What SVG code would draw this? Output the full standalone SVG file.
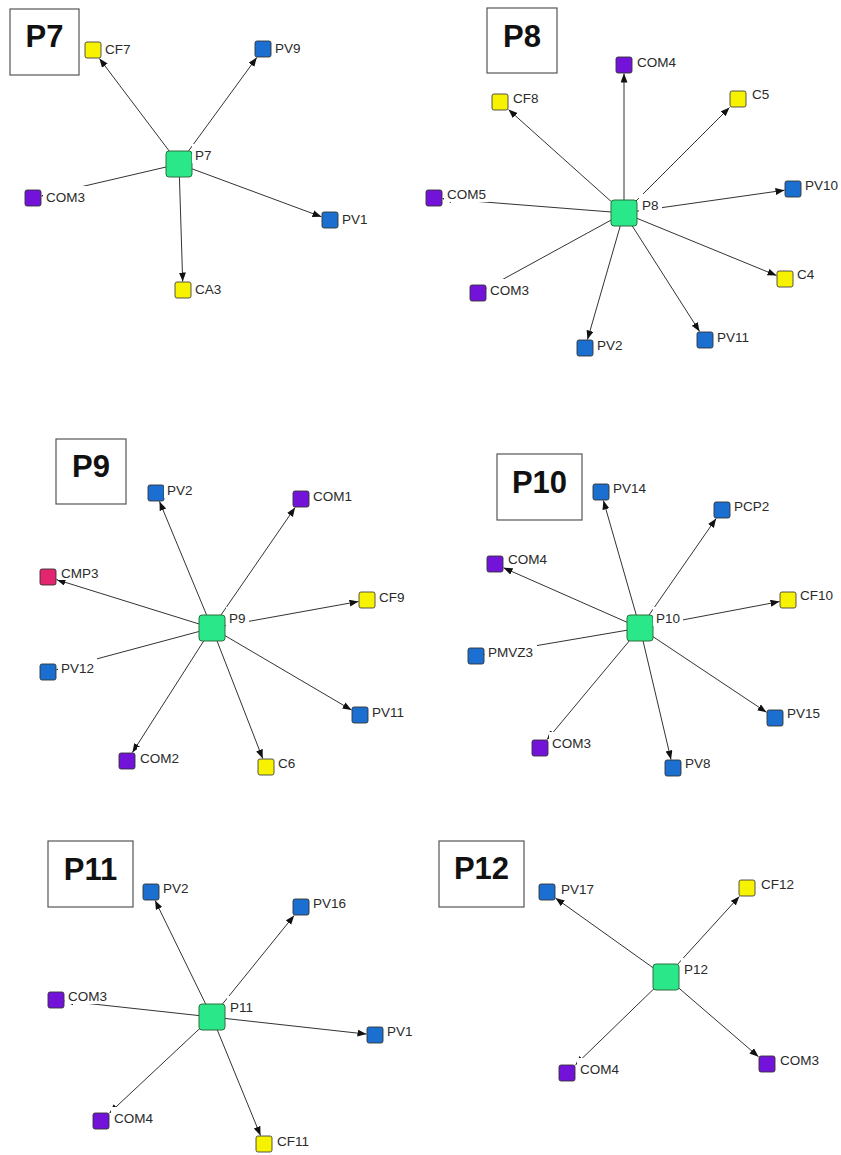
<svg xmlns="http://www.w3.org/2000/svg" width="841" height="1155" viewBox="0 0 841 1155">
  <style>
    .ttlbox { fill: #ffffff; stroke: #555555; stroke-width: 1.2; }
    .ttl { font-family: "Liberation Sans", Arial, sans-serif; font-weight: bold; font-size: 31px; fill: #111111; text-anchor: middle; }
    .e { stroke: #333333; stroke-width: 1; fill: none; marker-end: url(#arr); }
    .hub { fill: #2ae889; stroke: #2f6f3f; stroke-width: 1; }
    .y { fill: #f6f200; stroke: #444444; stroke-width: 0.9; }
    .b { fill: #1b6fd1; stroke: #333333; stroke-width: 0.9; }
    .p { fill: #7312d9; stroke: #333333; stroke-width: 0.9; }
    .m { fill: #e3246e; stroke: #333333; stroke-width: 0.9; }
    .lb { fill: #ffffff; }
    .lt { font-family: "Liberation Sans", Arial, sans-serif; font-size: 13.5px; fill: #2a2a2a; }
  </style>
  <defs>
    <marker id="arr" markerUnits="userSpaceOnUse" markerWidth="10" markerHeight="8" refX="9" refY="3.5" orient="auto">
      <path d="M0,0 L9,3.5 L0,7 z" fill="#111111"/>
    </marker>
  </defs>
  <rect width="841" height="1155" fill="#ffffff"/>

  <!-- panel titles -->
  <g id="titles">
    <rect class="ttlbox" x="10" y="9" width="69" height="66"/><text class="ttl" x="44.5" y="47">P7</text>
    <rect class="ttlbox" x="487" y="8" width="70" height="65"/><text class="ttl" x="522" y="47">P8</text>
    <rect class="ttlbox" x="56" y="439" width="70" height="65"/><text class="ttl" x="91" y="477">P9</text>
    <rect class="ttlbox" x="497" y="454" width="85" height="66"/><text class="ttl" x="539.5" y="493">P10</text>
    <rect class="ttlbox" x="48" y="841" width="85" height="66"/><text class="ttl" x="90.5" y="880">P11</text>
    <rect class="ttlbox" x="439" y="841" width="85" height="66"/><text class="ttl" x="481.5" y="879">P12</text>
  </g>

  <!-- connectors: hub to each linked node -->
  <g id="connectors">
    <!-- P7 -->
    <line class="e" x1="179" y1="164" x2="99.4" y2="58.5"/>
    <line class="e" x1="179" y1="164" x2="256.8" y2="57.5"/>
    <line class="e" x1="179" y1="164" x2="41.5" y2="196"/>
    <line class="e" x1="179" y1="164" x2="321.5" y2="216.8"/>
    <line class="e" x1="179" y1="164" x2="182.7" y2="281.5"/>
    <!-- P8 -->
    <line class="e" x1="624" y1="213" x2="624" y2="73.5"/>
    <line class="e" x1="624" y1="213" x2="508.5" y2="109.6"/>
    <line class="e" x1="624" y1="213" x2="729.5" y2="107.5"/>
    <line class="e" x1="624" y1="213" x2="784.5" y2="190.2"/>
    <line class="e" x1="624" y1="213" x2="776.5" y2="275.5"/>
    <line class="e" x1="624" y1="213" x2="699.6" y2="331.5"/>
    <line class="e" x1="624" y1="213" x2="587.5" y2="339.5"/>
    <line class="e" x1="624" y1="213" x2="486.5" y2="288.3"/>
    <line class="e" x1="624" y1="213" x2="442.5" y2="198.7"/>
    <!-- P9 -->
    <line class="e" x1="212" y1="628" x2="159.5" y2="501.5"/>
    <line class="e" x1="212" y1="628" x2="295.1" y2="507.5"/>
    <line class="e" x1="212" y1="628" x2="56.5" y2="579.6"/>
    <line class="e" x1="212" y1="628" x2="358.5" y2="601.5"/>
    <line class="e" x1="212" y1="628" x2="56.5" y2="669.7"/>
    <line class="e" x1="212" y1="628" x2="351.5" y2="710"/>
    <line class="e" x1="212" y1="628" x2="132.4" y2="752.5"/>
    <line class="e" x1="212" y1="628" x2="262.7" y2="758.5"/>
    <!-- P10 -->
    <line class="e" x1="640" y1="628" x2="603.4" y2="500.5"/>
    <line class="e" x1="640" y1="628" x2="716.1" y2="518.5"/>
    <line class="e" x1="640" y1="628" x2="503.5" y2="567.8"/>
    <line class="e" x1="640" y1="628" x2="779.5" y2="601.6"/>
    <line class="e" x1="640" y1="628" x2="484.5" y2="654.5"/>
    <line class="e" x1="640" y1="628" x2="766.5" y2="712.3"/>
    <line class="e" x1="640" y1="628" x2="547.1" y2="739.5"/>
    <line class="e" x1="640" y1="628" x2="671" y2="759.5"/>
    <!-- P11 -->
    <line class="e" x1="212" y1="1017" x2="155.1" y2="900.5"/>
    <line class="e" x1="212" y1="1017" x2="294.1" y2="915.5"/>
    <line class="e" x1="212" y1="1017" x2="64.5" y2="1000.9"/>
    <line class="e" x1="212" y1="1017" x2="366.5" y2="1034.1"/>
    <line class="e" x1="212" y1="1017" x2="109.5" y2="1113"/>
    <line class="e" x1="212" y1="1017" x2="260.5" y2="1135.5"/>
    <!-- P12 -->
    <line class="e" x1="666" y1="977" x2="555.5" y2="898.1"/>
    <line class="e" x1="666" y1="977" x2="739.3" y2="896.5"/>
    <line class="e" x1="666" y1="977" x2="575.5" y2="1064.8"/>
    <line class="e" x1="666" y1="977" x2="758.5" y2="1056.7"/>
  </g>

  <!-- P7 network -->
  <g id="p7-hub"><rect class="hub" x="166" y="151" width="26" height="26" rx="3"/><rect class="lb" x="192" y="144" width="23" height="19"/><text class="lt" x="195" y="160">P7</text></g>
  <g id="p7-cf7"><rect class="y" x="85" y="42" width="16" height="16" rx="2"/><rect class="lb" x="102" y="38" width="32" height="19"/><text class="lt" x="105" y="54">CF7</text></g>
  <g id="p7-pv9"><rect class="b" x="255" y="41" width="16" height="16" rx="2"/><rect class="lb" x="272" y="37" width="32" height="19"/><text class="lt" x="275" y="53">PV9</text></g>
  <g id="p7-com3"><rect class="p" x="25" y="190" width="16" height="16" rx="2"/><rect class="lb" x="43" y="186" width="46" height="19"/><text class="lt" x="46" y="202">COM3</text></g>
  <g id="p7-pv1"><rect class="b" x="322" y="212" width="16" height="16" rx="2"/><rect class="lb" x="339" y="208" width="32" height="19"/><text class="lt" x="342" y="224">PV1</text></g>
  <g id="p7-ca3"><rect class="y" x="175" y="282" width="16" height="16" rx="2"/><rect class="lb" x="192" y="278" width="33" height="19"/><text class="lt" x="195" y="294">CA3</text></g>

  <!-- P8 network -->
  <g id="p8-hub"><rect class="hub" x="611" y="200" width="26" height="26" rx="3"/><rect class="lb" x="639" y="194" width="23" height="19"/><text class="lt" x="642" y="210">P8</text></g>
  <g id="p8-com4"><rect class="p" x="616" y="57" width="16" height="16" rx="2"/><rect class="lb" x="634" y="51" width="46" height="19"/><text class="lt" x="637" y="67">COM4</text></g>
  <g id="p8-cf8"><rect class="y" x="492" y="94" width="16" height="16" rx="2"/><rect class="lb" x="510" y="87" width="32" height="19"/><text class="lt" x="513" y="103">CF8</text></g>
  <g id="p8-c5"><rect class="y" x="730" y="91" width="16" height="16" rx="2"/><rect class="lb" x="749" y="83" width="24" height="19"/><text class="lt" x="752" y="99">C5</text></g>
  <g id="p8-com5"><rect class="p" x="426" y="190" width="16" height="16" rx="2"/><rect class="lb" x="444" y="183" width="45" height="19"/><text class="lt" x="447" y="199">COM5</text></g>
  <g id="p8-pv10"><rect class="b" x="785" y="181" width="16" height="16" rx="2"/><rect class="lb" x="802" y="174" width="39" height="19"/><text class="lt" x="805" y="190">PV10</text></g>
  <g id="p8-c4"><rect class="y" x="777" y="271" width="16" height="16" rx="2"/><rect class="lb" x="794" y="263" width="24" height="19"/><text class="lt" x="797" y="279">C4</text></g>
  <g id="p8-com3"><rect class="p" x="470" y="285" width="16" height="16" rx="2"/><rect class="lb" x="487" y="279" width="46" height="19"/><text class="lt" x="490" y="295">COM3</text></g>
  <g id="p8-pv2"><rect class="b" x="577" y="340" width="16" height="16" rx="2"/><rect class="lb" x="594" y="334" width="32" height="19"/><text class="lt" x="597" y="350">PV2</text></g>
  <g id="p8-pv11"><rect class="b" x="697" y="332" width="16" height="16" rx="2"/><rect class="lb" x="714" y="326" width="39" height="19"/><text class="lt" x="717" y="342">PV11</text></g>

  <!-- P9 network -->
  <g id="p9-hub"><rect class="hub" x="199" y="615" width="26" height="26" rx="3"/><rect class="lb" x="226" y="607" width="23" height="19"/><text class="lt" x="229" y="623">P9</text></g>
  <g id="p9-pv2"><rect class="b" x="148" y="485" width="16" height="16" rx="2"/><rect class="lb" x="164" y="479" width="32" height="19"/><text class="lt" x="167" y="495">PV2</text></g>
  <g id="p9-com1"><rect class="p" x="293" y="491" width="16" height="16" rx="2"/><rect class="lb" x="310" y="485" width="46" height="19"/><text class="lt" x="313" y="501">COM1</text></g>
  <g id="p9-cmp3"><rect class="m" x="40" y="569" width="16" height="16" rx="2"/><rect class="lb" x="58" y="563" width="44" height="17"/><text class="lt" x="61" y="578">CMP3</text></g>
  <g id="p9-cf9"><rect class="y" x="359" y="592" width="16" height="16" rx="2"/><rect class="lb" x="376" y="586" width="32" height="19"/><text class="lt" x="379" y="602">CF9</text></g>
  <g id="p9-pv12"><rect class="b" x="40" y="664" width="16" height="16" rx="2"/><rect class="lb" x="58" y="657" width="39" height="19"/><text class="lt" x="61" y="673">PV12</text></g>
  <g id="p9-pv11"><rect class="b" x="352" y="707" width="16" height="16" rx="2"/><rect class="lb" x="369" y="701" width="39" height="19"/><text class="lt" x="372" y="717">PV11</text></g>
  <g id="p9-com2"><rect class="p" x="119" y="753" width="16" height="16" rx="2"/><rect class="lb" x="137" y="747" width="46" height="19"/><text class="lt" x="140" y="763">COM2</text></g>
  <g id="p9-c6"><rect class="y" x="258" y="759" width="16" height="16" rx="2"/><rect class="lb" x="275" y="752" width="24" height="19"/><text class="lt" x="278" y="768">C6</text></g>

  <!-- P10 network -->
  <g id="p10-hub"><rect class="hub" x="627" y="615" width="26" height="26" rx="3"/><rect class="lb" x="653" y="607" width="30" height="19"/><text class="lt" x="656" y="623">P10</text></g>
  <g id="p10-pv14"><rect class="b" x="593" y="484" width="16" height="16" rx="2"/><rect class="lb" x="610" y="477" width="39" height="19"/><text class="lt" x="613" y="493">PV14</text></g>
  <g id="p10-pcp2"><rect class="b" x="714" y="502" width="16" height="16" rx="2"/><rect class="lb" x="731" y="495" width="42" height="19"/><text class="lt" x="734" y="511">PCP2</text></g>
  <g id="p10-com4"><rect class="p" x="487" y="556" width="16" height="16" rx="2"/><rect class="lb" x="505" y="548" width="46" height="19"/><text class="lt" x="508" y="564">COM4</text></g>
  <g id="p10-cf10"><rect class="y" x="780" y="592" width="16" height="16" rx="2"/><rect class="lb" x="797" y="584" width="39" height="19"/><text class="lt" x="800" y="600">CF10</text></g>
  <g id="p10-pmvz3"><rect class="b" x="468" y="648" width="16" height="16" rx="2"/><rect class="lb" x="485" y="641" width="52" height="19"/><text class="lt" x="488" y="657">PMVZ3</text></g>
  <g id="p10-pv15"><rect class="b" x="767" y="710" width="16" height="16" rx="2"/><rect class="lb" x="784" y="702" width="39" height="19"/><text class="lt" x="787" y="718">PV15</text></g>
  <g id="p10-com3"><rect class="p" x="532" y="740" width="16" height="16" rx="2"/><rect class="lb" x="549" y="732" width="46" height="19"/><text class="lt" x="552" y="748">COM3</text></g>
  <g id="p10-pv8"><rect class="b" x="665" y="760" width="16" height="16" rx="2"/><rect class="lb" x="682" y="752" width="32" height="19"/><text class="lt" x="685" y="768">PV8</text></g>

  <!-- P11 network -->
  <g id="p11-hub"><rect class="hub" x="199" y="1004" width="26" height="26" rx="3"/><rect class="lb" x="227" y="996" width="30" height="19"/><text class="lt" x="230" y="1012">P11</text></g>
  <g id="p11-pv2"><rect class="b" x="143" y="884" width="16" height="16" rx="2"/><rect class="lb" x="160" y="877" width="32" height="19"/><text class="lt" x="163" y="893">PV2</text></g>
  <g id="p11-pv16"><rect class="b" x="293" y="899" width="16" height="16" rx="2"/><rect class="lb" x="310" y="892" width="39" height="19"/><text class="lt" x="313" y="908">PV16</text></g>
  <g id="p11-com3"><rect class="p" x="48" y="992" width="16" height="16" rx="2"/><rect class="lb" x="65" y="985" width="46" height="19"/><text class="lt" x="68" y="1001">COM3</text></g>
  <g id="p11-pv1"><rect class="b" x="367" y="1027" width="16" height="16" rx="2"/><rect class="lb" x="384" y="1020" width="32" height="19"/><text class="lt" x="387" y="1036">PV1</text></g>
  <g id="p11-com4"><rect class="p" x="93" y="1113" width="16" height="16" rx="2"/><rect class="lb" x="111" y="1107" width="46" height="19"/><text class="lt" x="114" y="1123">COM4</text></g>
  <g id="p11-cf11"><rect class="y" x="256" y="1136" width="16" height="16" rx="2"/><rect class="lb" x="274" y="1130" width="39" height="19"/><text class="lt" x="277" y="1146">CF11</text></g>

  <!-- P12 network -->
  <g id="p12-hub"><rect class="hub" x="653" y="964" width="26" height="26" rx="3"/><rect class="lb" x="681" y="958" width="30" height="19"/><text class="lt" x="684" y="974">P12</text></g>
  <g id="p12-pv17"><rect class="b" x="539" y="884" width="16" height="16" rx="2"/><rect class="lb" x="558" y="878" width="39" height="19"/><text class="lt" x="561" y="894">PV17</text></g>
  <g id="p12-cf12"><rect class="y" x="739" y="880" width="16" height="16" rx="2"/><rect class="lb" x="758" y="873" width="39" height="19"/><text class="lt" x="761" y="889">CF12</text></g>
  <g id="p12-com4"><rect class="p" x="559" y="1065" width="16" height="16" rx="2"/><rect class="lb" x="577" y="1058" width="46" height="19"/><text class="lt" x="580" y="1074">COM4</text></g>
  <g id="p12-com3"><rect class="p" x="759" y="1056" width="16" height="16" rx="2"/><rect class="lb" x="777" y="1049" width="46" height="19"/><text class="lt" x="780" y="1065">COM3</text></g>
</svg>
